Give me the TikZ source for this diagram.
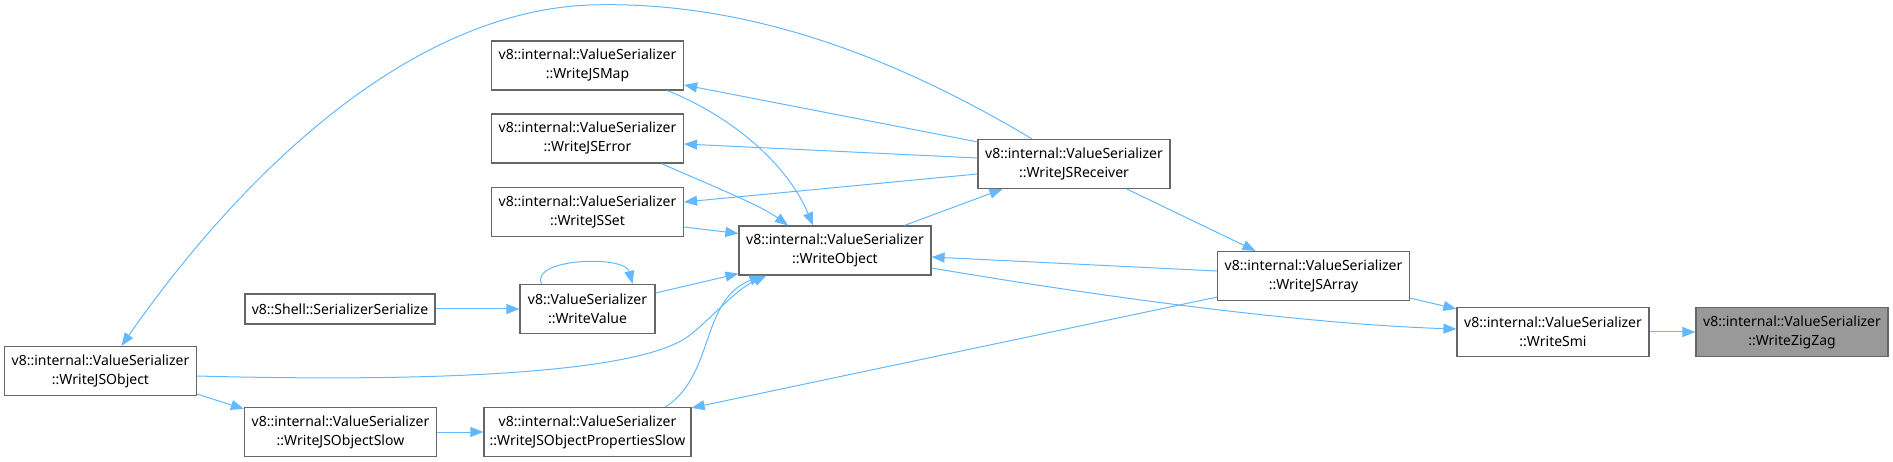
\documentclass[tikz,border=0pt]{standalone}
\usepackage{fontspec}
\setmainfont{Noto Sans}
\usepackage{xcolor}
\usetikzlibrary{arrows.meta,calc}
\definecolor{edgeblue}{HTML}{63B8FF}
\definecolor{boxgray}{HTML}{666666}
\definecolor{rootgray}{HTML}{999999}
\tikzset{
  fn/.style={draw=boxgray,line width=1.2pt,fill=white,minimum width=192pt,minimum height=49pt,
    inner sep=0pt,align=center,font=\fontsize{14}{19}\selectfont},
  call/.style={draw=edgeblue,line width=1pt,-{Triangle[length=13pt,width=10pt]}}
}

\begin{document}
\begin{tikzpicture}[x=1pt,y=-1pt]
\useasboundingbox (0,0) rectangle (1893,462);
% functions
\node[fn,fill=rootgray] (zigzag) at (1792,332) {v8::internal::ValueSerializer\\::WriteZigZag};
\node[fn] (smi) at (1553,332) {v8::internal::ValueSerializer\\::WriteSmi};
\node[fn] (jsarray) at (1313.5,276) {v8::internal::ValueSerializer\\::WriteJSArray};
\node[fn] (receiver) at (1074,164) {v8::internal::ValueSerializer\\::WriteJSReceiver};
\node[fn] (object) at (835,250.5) {v8::internal::ValueSerializer\\::WriteObject};
\node[fn] (jsmap) at (587.5,65.5) {v8::internal::ValueSerializer\\::WriteJSMap};
\node[fn] (jserror) at (587.5,138.5) {v8::internal::ValueSerializer\\::WriteJSError};
\node[fn] (jsset) at (587.5,212) {v8::internal::ValueSerializer\\::WriteJSSet};
\node[fn,minimum width=135pt] (value) at (587.5,309) {v8::ValueSerializer\\::WriteValue};
\node[fn,minimum width=190pt,minimum height=30pt] (shell) at (340,309) {v8::Shell::SerializerSerialize};
\node[fn] (jsobject) at (100.5,371) {v8::internal::ValueSerializer\\::WriteJSObject};
\node[fn] (objslow) at (340.5,432) {v8::internal::ValueSerializer\\::WriteJSObjectSlow};
\node[fn,minimum width=207pt] (propslow) at (587.5,432) {v8::internal::ValueSerializer\\::WriteJSObjectPropertiesSlow};
% calls
\draw[call] (smi.east) -- (zigzag.west);
\draw[call] ($(jsarray.south east)+(0,-3)$) -- ($(smi.north west)+(0,2)$);
\draw[call] ($(object.east)+(0,17.5)$) .. controls (1150,305) and (1330,325) .. ($(smi.west)+(0,-3)$);
\draw[call] ($(receiver.south)+(53,0)$) -- ($(jsarray.north)+(-58,0)$);
\draw[call] ($(jsarray.west)+(0,-5)$) -- ($(object.east)+(0,6.5)$);
\draw[call] ($(jsarray.south west)+(0,-4)$) -- ($(propslow.north east)+(0,1)$);
\draw[call] ($(receiver.north west)+(0,3)$) -- ($(jsmap.east)+(0,19.5)$);
\draw[call] ($(receiver.west)+(0,-6)$) -- ($(jserror.east)+(0,5.5)$);
\draw[call] ($(receiver.west)+(0,10)$) -- ($(jsset.east)+(0,-10)$);
\draw[call] ($(object.north east)+(-27,0)$) -- ($(receiver.south west)+(25,0)$);
\draw[call] ($(receiver.north)+(-42,0)$) .. controls (900,60) and (750,0) .. (590,5)
  .. controls (400,12) and (230,190) .. ($(jsobject.north)+(21,0)$);
\draw[call] ($(jsmap.south)+(80,0)$) .. controls (740,120) and (790,170) .. ($(object.north)+(-22,0)$);
\draw[call] ($(jserror.south)+(74,0)$) .. controls (710,185) and (760,205) .. ($(object.north)+(-47,0)$);
\draw[call] ($(jsset.east)+(0,15)$) -- ($(object.west)+(0,-17)$);
\draw[call] ($(value.east)+(0,-16)$) -- ($(object.south west)+(0,-2)$);
\draw[call] ($(value.north)+(-46,0)$) .. controls (530,258) and (625,255) .. ($(value.north)+(45,0)$);
\draw[call] (shell.east) -- (value.west);
\draw[call] ($(jsobject.east)+(0,5)$) .. controls (420,382) and (640,375) .. (690,335)
  .. controls (715,315) and (735,290) .. ($(object.south west)+(28,0)$);
\draw[call] ($(jsobject.south east)+(0,-2)$) -- ($(objslow.north west)+(0,2)$);
\draw[call] (objslow.east) -- (propslow.west);
\draw[call] ($(propslow.north)+(78,0)$) .. controls (715,375) and (700,300) .. ($(object.south west)+(24,0)$);
\end{tikzpicture}
\end{document}
